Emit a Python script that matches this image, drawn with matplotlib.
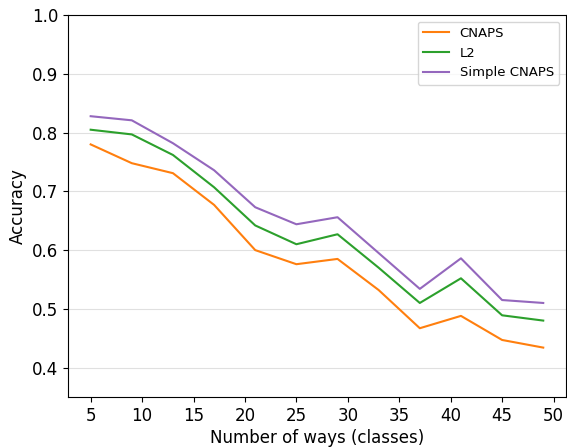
import matplotlib
matplotlib.use("Agg")
import matplotlib.pyplot as plt

ways = [5, 9, 13, 17, 21, 25, 29, 33, 37, 41, 45, 49]
cnaps = [0.780, 0.748, 0.731, 0.677, 0.600, 0.576, 0.585, 0.532, 0.467, 0.488, 0.447, 0.434]
l2 = [0.805, 0.797, 0.762, 0.707, 0.642, 0.610, 0.627, 0.570, 0.510, 0.552, 0.489, 0.480]
simple_cnaps = [0.828, 0.821, 0.782, 0.736, 0.673, 0.644, 0.656, 0.595, 0.534, 0.586, 0.515, 0.510]

plt.rcParams["font.size"] = 12

fig = plt.figure(figsize=(5.67, 4.47), dpi=100)
ax = fig.add_axes([0.12, 0.112, 0.878, 0.854])

ax.plot(ways, cnaps, color="#ff7f0e", label="CNAPS")
ax.plot(ways, l2, color="#2ca02c", label="L2")
ax.plot(ways, simple_cnaps, color="#9467bd", label="Simple CNAPS")

ax.set_ylim(0.35, 1.0)
ax.set_xticks([5, 10, 15, 20, 25, 30, 35, 40, 45, 50])
ax.yaxis.grid(True, color="#e0e0e0", linewidth=0.8)
ax.set_axisbelow(True)
ax.set_xlabel("Number of ways (classes)", labelpad=3)
ax.set_ylabel("Accuracy")
ax.legend(loc="upper right", fontsize=9.5)

fig.savefig("out.png", dpi=100)
